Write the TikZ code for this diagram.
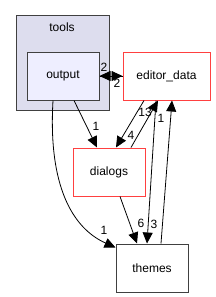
\documentclass[tikz,border=0pt]{standalone}
\usepackage{fontspec}
\setmainfont{Liberation Sans}
\usetikzlibrary{arrows.meta}
\definecolor{clusterfill}{HTML}{DDDDEE}
\definecolor{outfill}{HTML}{EEEEFF}
\definecolor{dgray}{HTML}{404040}
\definecolor{lred}{HTML}{FF4040}
\tikzset{
  box/.style={rectangle, draw=dgray, line width=1pt, minimum width=72pt, minimum height=48pt, inner sep=0pt, font=\fontsize{12}{14}\selectfont},
  redbox/.style={box, draw=lred, fill=white},
  arr/.style={draw=black, line width=0.8pt, -{Triangle[length=11pt,width=10pt]}},
  lbl/.style={inner sep=0pt, font=\fontsize{12}{14}\selectfont}
}
\begin{document}
\begin{tikzpicture}[x=1pt,y=-1pt]
\useasboundingbox (0,0) rectangle (215,297);
\node[rectangle, draw=dgray, fill=clusterfill, line width=1pt, minimum width=93pt, minimum height=95pt, inner sep=0pt] (tools) at (62.5,62.5) {};
\node[lbl] (toolslbl) at (62,27) {tools};
\node[box, fill=outfill] (output) at (63,76) {output};
\node[redbox, minimum width=87pt] (editor) at (166.5,76) {editor\_data};
\node[redbox] (dialogs) at (109,172) {dialogs};
\node[box, fill=white] (themes) at (152,268) {themes};

\draw[arr] (output.east) -- (editor.west);
\draw[arr] (editor.west) -- (output.east);
\draw[arr] ([xshift=11]output.south) -- ([xshift=-12]dialogs.north);
\draw[arr] ([xshift=-10]output.south) .. controls (48,185) and (72,228) .. ([yshift=-4]themes.north west);
\draw[arr] ([xshift=-22.5]editor.south) -- ([xshift=7]dialogs.north);
\draw[arr] ([xshift=22]dialogs.north) -- ([xshift=-8.5]editor.south);
\draw[arr] ([xshift=-10.5]editor.south) -- ([xshift=-5]themes.north);
\draw[arr] ([xshift=9]themes.north) -- ([xshift=5.5]editor.south);
\draw[arr] ([xshift=11]dialogs.south) -- ([xshift=-15]themes.north);

\node[lbl] (l1) at (104,67) {2};
\node[lbl] (l2) at (117,83) {2};
\node[lbl] (l3) at (96,126) {1};
\node[lbl] (l4) at (131,135) {4};
\node[lbl] (l5) at (145,112) {13};
\node[lbl] (l6) at (161,118) {1};
\node[lbl] (l7) at (141,223) {6};
\node[lbl] (l8) at (154,224) {3};
\node[lbl] (l9) at (104,230) {1};
\end{tikzpicture}
\end{document}
